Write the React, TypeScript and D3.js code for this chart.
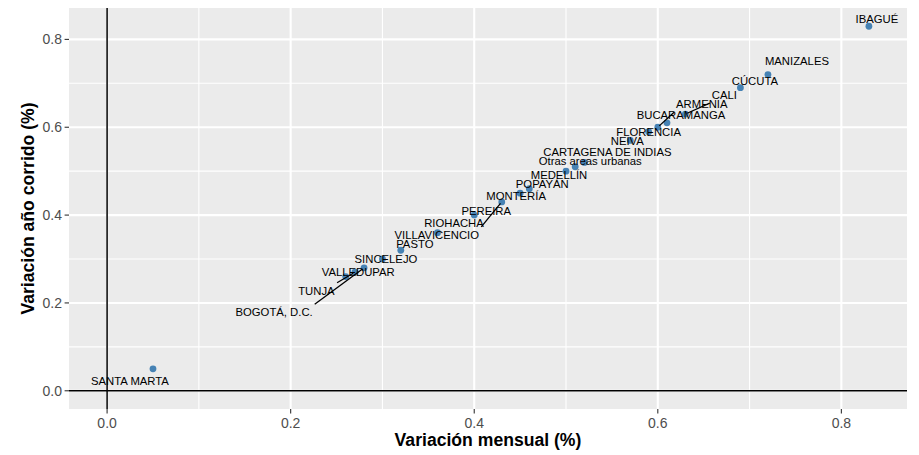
import { useEffect, useRef } from 'react';
import * as d3 from 'd3';

// values (variación mensual / año corrido, %)
const cities = [
  'IBAGUÉ', 'MANIZALES', 'CÚCUTA', 'CALI', 'BUCARAMANGA', 'ARMENIA', 'FLORENCIA',
  'NEIVA', 'CARTAGENA DE INDIAS', 'Otras areas urbanas', 'MEDELLÍN', 'POPAYÁN',
  'MONTERÍA', 'VILLAVICENCIO', 'PEREIRA', 'RIOHACHA', 'PASTO', 'SINCELEJO',
  'BOGOTÁ, D.C.', 'TUNJA', 'VALLEDUPAR', 'SANTA MARTA',
];
const mensual = [
  0.83, 0.72, 0.69, 0.63, 0.61, 0.60, 0.59, 0.57, 0.52, 0.51, 0.50, 0.46,
  0.45, 0.43, 0.40, 0.36, 0.32, 0.30, 0.28, 0.27, 0.26, 0.05,
];
const anioCorrido = [
  0.83, 0.72, 0.69, 0.63, 0.61, 0.60, 0.59, 0.57, 0.52, 0.51, 0.50, 0.46,
  0.45, 0.43, 0.40, 0.36, 0.32, 0.30, 0.28, 0.27, 0.26, 0.05,
];
const xTicks = [0, 0.2, 0.4, 0.6, 0.8];
const yTicks = [0, 0.2, 0.4, 0.6, 0.8];
const minorTicks = [0.1, 0.3, 0.5, 0.7];

// label placement (pixels from the point), mimics the repelled labels
const labelNudge: [number, number][] = [
  [8, -7], [29, -14], [14.5, -7], [39, -19], [14, -8], [44, -23], [0, 0],
  [-3, 1], [23, -10], [15, -6], [-7, 3.5], [13, -5],
  [-4, 2.5], [-65, 33], [12, -4.5], [16.5, -10], [14, -6.5], [3.5, 0],
  [-90, 44.5], [-38.5, 18.5], [12.5, -5], [-23, 12],
];

const W = 919;
const H = 455;
const panel = { left: 69, right: 907, top: 8, bottom: 409 };
const FONT = '"Liberation Sans", Arial, sans-serif';

export default function App() {
  const ref = useRef<SVGSVGElement>(null);

  useEffect(() => {
    if (!ref.current) return;
    const svg = d3.select(ref.current);
    svg.selectAll('*').remove();

    const x = d3.scaleLinear().domain([-0.0415, 0.8715]).range([panel.left, panel.right]);
    const y = d3.scaleLinear().domain([-0.0415, 0.8715]).range([panel.bottom, panel.top]);

    svg.append('rect').attr('width', W).attr('height', H).attr('fill', '#fff');
    svg.append('rect')
      .attr('x', panel.left).attr('y', panel.top)
      .attr('width', panel.right - panel.left).attr('height', panel.bottom - panel.top)
      .attr('fill', '#EBEBEB');

    const grid = svg.append('g');
    minorTicks.forEach((t) => {
      grid.append('line').attr('x1', x(t)).attr('x2', x(t)).attr('y1', panel.top).attr('y2', panel.bottom)
        .attr('stroke', '#fff').attr('stroke-width', 1.1);
      grid.append('line').attr('y1', y(t)).attr('y2', y(t)).attr('x1', panel.left).attr('x2', panel.right)
        .attr('stroke', '#fff').attr('stroke-width', 1.1);
    });
    xTicks.forEach((t) => {
      grid.append('line').attr('x1', x(t)).attr('x2', x(t)).attr('y1', panel.top).attr('y2', panel.bottom)
        .attr('stroke', '#fff').attr('stroke-width', 2.1);
    });
    yTicks.forEach((t) => {
      grid.append('line').attr('y1', y(t)).attr('y2', y(t)).attr('x1', panel.left).attr('x2', panel.right)
        .attr('stroke', '#fff').attr('stroke-width', 2.1);
    });

    // reference lines at zero
    svg.append('line').attr('x1', x(0)).attr('x2', x(0)).attr('y1', panel.top).attr('y2', panel.bottom)
      .attr('stroke', '#000').attr('stroke-width', 1.5);
    svg.append('line').attr('y1', y(0)).attr('y2', y(0)).attr('x1', panel.left).attr('x2', panel.right)
      .attr('stroke', '#000').attr('stroke-width', 1.5);

    // axes
    const ax = svg.append('g');
    xTicks.forEach((t) => {
      ax.append('line').attr('x1', x(t)).attr('x2', x(t)).attr('y1', panel.bottom).attr('y2', panel.bottom + 4.4)
        .attr('stroke', '#333').attr('stroke-width', 1.1);
      ax.append('text').attr('x', x(t)).attr('y', panel.bottom + 18.5)
        .attr('text-anchor', 'middle').attr('fill', '#4D4D4D')
        .style('font', `14px ${FONT}`).text(d3.format('.1f')(t));
    });
    yTicks.forEach((t) => {
      ax.append('line').attr('x1', panel.left - 4.4).attr('x2', panel.left).attr('y1', y(t)).attr('y2', y(t))
        .attr('stroke', '#333').attr('stroke-width', 1.1);
      ax.append('text').attr('x', panel.left - 7).attr('y', y(t) + 5)
        .attr('text-anchor', 'end').attr('fill', '#4D4D4D')
        .style('font', `14px ${FONT}`).text(d3.format('.1f')(t));
    });
    svg.append('text')
      .attr('x', (panel.left + panel.right) / 2).attr('y', 446)
      .attr('text-anchor', 'middle').style('font', `bold 17.6px ${FONT}`)
      .text('Variación mensual (%)');
    svg.append('text')
      .attr('transform', `translate(34, ${(panel.top + panel.bottom) / 2}) rotate(-90)`)
      .attr('text-anchor', 'middle').style('font', `bold 17.6px ${FONT}`)
      .text('Variación año corrido (%)');

    const pts = cities.map((c, i) => ({
      name: c, px: x(mensual[i]), py: y(anioCorrido[i]),
      lx: x(mensual[i]) + labelNudge[i][0], ly: y(anioCorrido[i]) + labelNudge[i][1],
    }));

    svg.append('g').selectAll('circle').data(pts).join('circle')
      .attr('cx', (d) => d.px).attr('cy', (d) => d.py).attr('r', 3.4)
      .attr('fill', '#4682B4');

    const segs = svg.append('g');
    const labels = svg.append('g');
    pts.forEach((d) => {
      const t = labels.append('text')
        .attr('x', d.lx).attr('y', d.ly + 4)
        .attr('text-anchor', 'middle').attr('fill', '#000')
        .style('font', `11.3px ${FONT}`).text(d.name);
      const node = t.node() as SVGTextElement;
      const bb = node.getBBox();
      const pad = 2;
      const x0 = bb.x - pad, x1 = bb.x + bb.width + pad;
      const y0 = d.ly - 6 - pad, y1 = d.ly + 6 + pad;
      const sx = Math.max(x0, Math.min(x1, d.px));
      const sy = Math.max(y0, Math.min(y1, d.py));
      const dx = d.px - sx, dy = d.py - sy;
      const len = Math.hypot(dx, dy);
      if (len > 9) {
        const k = (len - 2) / len;
        segs.append('line')
          .attr('x1', sx).attr('y1', sy)
          .attr('x2', sx + dx * k).attr('y2', sy + dy * k)
          .attr('stroke', '#000').attr('stroke-width', 1.3);
      }
    });
  }, []);

  return (
    <svg ref={ref} width={W} height={H}
      style={{ position: 'absolute', left: 0, top: 0, display: 'block' }} />
  );
}
